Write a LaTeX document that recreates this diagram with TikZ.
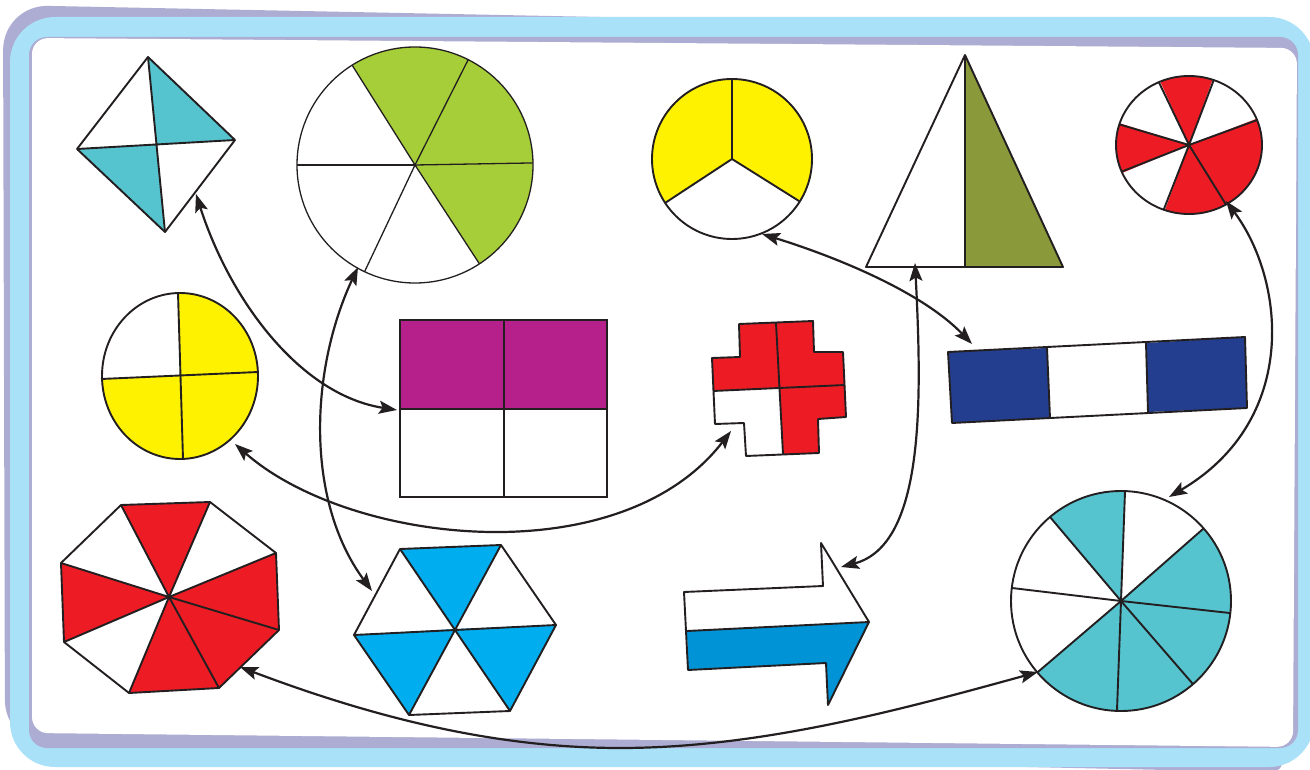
\documentclass[tikz,border=0pt]{standalone}
\usetikzlibrary{arrows.meta}
\definecolor{ink}{HTML}{231F20}
\definecolor{framebl}{HTML}{A9E1F9}
\definecolor{lav}{HTML}{ADADD3}
\definecolor{tealc}{HTML}{55C4CF}
\definecolor{grn}{HTML}{A6CE39}
\definecolor{yel}{HTML}{FFF200}
\definecolor{olive}{HTML}{8A9A3B}
\definecolor{redc}{HTML}{ED1C24}
\definecolor{purp}{HTML}{B5208B}
\definecolor{navy}{HTML}{233E8E}
\definecolor{hexbl}{HTML}{00AEEF}
\definecolor{arrbl}{HTML}{0093D6}
\begin{document}
\begin{tikzpicture}[x=1pt,y=-1pt,
  shp/.style={draw=ink,line width=1.9pt,line join=round},
  thinline/.style={draw=ink,line width=1.3pt,line join=round},
  link/.style={draw=ink,line width=2.2pt,{Stealth[length=18pt,width=13pt,inset=3.5pt]}-{Stealth[length=18pt,width=13pt,inset=3.5pt]}}]
\useasboundingbox (0,0) rectangle (1310,770);
% frame
\fill[lav,rounded corners=45] (3,5) -- (700,19) -- (1250,21) -- (1250,740) -- (1306,773) -- (5,745) -- cycle;
\fill[framebl,rounded corners=45] (10,17) rectangle (1314,767);
\fill[lav,rounded corners=18] (29,37) -- (1298,37) -- (1298,748) -- (29,748) -- cycle;
\fill[white,rounded corners=16] (32,38) -- (1297,48) -- (1293,747) -- (32,733) -- cycle;

% kite
\coordinate (kT) at (148,57); \coordinate (kR) at (235,140);
\coordinate (kB) at (165,232); \coordinate (kL) at (77,149);
\coordinate (kC) at (156,144);
\fill[tealc] (kT) -- (kC) -- (kR) -- cycle;
\fill[tealc] (kL) -- (kC) -- (kB) -- cycle;
\draw[shp] (kT) -- (kR) -- (kB) -- (kL) -- cycle;
\draw[shp] (kT) -- (kB) (kL) -- (kR);

% green circle (sixths)
\begin{scope}[shift={(415,165)}]
  \begin{scope}
    \clip (0,0) circle (118);
    \fill[grn] (0,0) -- (237.8:200) -- (296.8:200) -- (359:200) -- (416.9:200) -- cycle;
  \end{scope}
  \draw[thinline] (0,0) circle (118);
  \foreach \a in {237.8,296.8,359,56.9,115.3,180} \draw[thinline] (0,0) -- (\a:118);
\end{scope}

% yellow circle (thirds)
\begin{scope}[shift={(732,159)}]
  \begin{scope}
    \clip (0,0) circle (80);
    \fill[yel] (0,0) -- (146.7:150) -- (210:150) -- (270:150) -- (330:150) -- (392.1:150) -- cycle;
  \end{scope}
  \draw[shp] (0,0) circle (80);
  \foreach \a in {146.7,270,32.1} \draw[shp] (0,0) -- (\a:80);
\end{scope}

% triangle
\coordinate (tA) at (965,55); \coordinate (tL) at (866,267);
\coordinate (tR) at (1063,267); \coordinate (tM) at (965,267);
\fill[olive] (tA) -- (tR) -- (tM) -- cycle;
\draw[shp] (tA) -- (tR) -- (tL) -- cycle;
\draw[shp] (tA) -- (tM);

% red circle (sevenths)
\begin{scope}[shift={(1189,145)}]
  \begin{scope}
    \clip (0,0) ellipse [x radius=73,y radius=69];
    \fill[redc] (0,0) -- (245.6:150) -- (289.8:150) -- cycle;
    \fill[redc] (0,0) -- (338.8:150) -- (404:150) -- (470.3:150) -- cycle;
    \fill[redc] (0,0) -- (517.3:150) -- (557.4:150) -- cycle;
  \end{scope}
  \draw[shp] (0,0) ellipse [x radius=73,y radius=69];
  \foreach \a in {245.6,289.8,338.8,59.6,110.3,157.3,197.4} \draw[shp] (0,0) -- (\a:73 and 69);
\end{scope}

% yellow circle (quarters)
\coordinate (yC) at (180,376);
\begin{scope}
  \clip (180,376) ellipse [x radius=78,y radius=83];
  \fill[yel] (yC) -- (177,260) -- (300,260) -- (300,480) -- (60,480) -- (60,381) -- cycle;
\end{scope}
\draw[shp] (180,376) ellipse [x radius=78,y radius=83];
\draw[shp] (178,293) -- (183,459) (101,379) -- (258,372);

% purple rectangle
\fill[purp] (400,320) rectangle (607,409);
\draw[draw=ink,line width=2.4pt] (400,320) rectangle (607,497);
\draw[draw=ink,line width=2.4pt] (504,320) -- (504,497) (400,409) -- (607,409);

% red cross
\coordinate (cC) at (779,388); \coordinate (cT) at (776,323);
\coordinate (cB) at (783,454); \coordinate (cL) at (713,391);
\coordinate (cR) at (845,385);
\fill[redc] (cT) -- (739,324) -- (740,357) -- (712,358) -- (cL) -- (cC) -- cycle;
\fill[redc] (cT) -- (813,321) -- (814,352) -- (843,352) -- (cR) -- (cC) -- cycle;
\fill[redc] (cC) -- (cR) -- (846,417) -- (818,419) -- (819,453) -- (cB) -- cycle;
\draw[shp] (739,324) -- (813,321) -- (814,352) -- (843,352) -- (846,417) -- (818,419) -- (819,453) -- (746,456) -- (744,423) -- (715,424) -- (712,358) -- (740,357) -- cycle;
\draw[shp] (cT) -- (cB) (cL) -- (cR);

% navy band
\coordinate (bTL) at (948,352); \coordinate (bTR) at (1245,337);
\coordinate (bBR) at (1247,408); \coordinate (bBL) at (952,423);
\coordinate (d1t) at (1047,348); \coordinate (d1b) at (1050,418);
\coordinate (d2t) at (1146,343); \coordinate (d2b) at (1148,412);
\fill[navy] (bTL) -- (d1t) -- (d1b) -- (bBL) -- cycle;
\fill[navy] (d2t) -- (bTR) -- (bBR) -- (d2b) -- cycle;
\draw[shp] (bTL) -- (bTR) -- (bBR) -- (bBL) -- cycle;
\draw[shp] (d1t) -- (d1b) (d2t) -- (d2b);

% octagon
\coordinate (oc) at (169,597);
\coordinate (o1) at (121,505); \coordinate (o2) at (210,502);
\coordinate (o3) at (276,553); \coordinate (o4) at (279,630);
\coordinate (o5) at (219,688); \coordinate (o6) at (129,693);
\coordinate (o7) at (64,642);  \coordinate (o8) at (61,563);
\fill[redc] (oc) -- (o1) -- (o2) -- cycle;
\fill[redc] (oc) -- (o3) -- (o4) -- (o5) -- (o6) -- cycle;
\fill[redc] (oc) -- (o7) -- (o8) -- cycle;
\draw[shp] (o1) -- (o2) -- (o3) -- (o4) -- (o5) -- (o6) -- (o7) -- (o8) -- cycle;
\foreach \p in {o1,o2,o3,o4,o5,o6,o7,o8} \draw[shp] (oc) -- (\p);

% hexagon
\coordinate (hc) at (455,629);
\coordinate (h1) at (400,549); \coordinate (h2) at (501,545);
\coordinate (h3) at (556,625); \coordinate (h4) at (510,711);
\coordinate (h5) at (409,715); \coordinate (h6) at (354,635);
\fill[hexbl] (hc) -- (h1) -- (h2) -- cycle;
\fill[hexbl] (hc) -- (h3) -- (h4) -- cycle;
\fill[hexbl] (hc) -- (h5) -- (h6) -- cycle;
\draw[shp] (h1) -- (h2) -- (h3) -- (h4) -- (h5) -- (h6) -- cycle;
\draw[shp] (h1) -- (h4) (h2) -- (h5) (h3) -- (h6);

% arrow shape
\coordinate (a1) at (684,592); \coordinate (a2) at (823,586);
\coordinate (a3) at (821,543); \coordinate (a4) at (869,622);
\coordinate (a5) at (828,705); \coordinate (a6) at (826,663);
\coordinate (a7) at (688,670); \coordinate (am) at (687,631);
\fill[arrbl] (am) -- (a4) -- (a5) -- (a6) -- (a7) -- cycle;
\draw[shp] (a1) -- (a2) -- (a3) -- (a4) -- (a5) -- (a6) -- (a7) -- cycle;
\draw[shp] (am) -- (a4);

% teal circle (eighths)
\begin{scope}[shift={(1121,601)}]
  \begin{scope}
    \clip (0,0) circle (110);
    \fill[tealc] (0,0) -- (229.8:200) -- (272.1:200) -- cycle;
    \fill[tealc] (0,0) -- (318.7:200) -- (363.9:200) -- (409.1:200) -- (454.3:200) -- (499.5:200) -- cycle;
  \end{scope}
  \draw[shp] (0,0) circle (110);
  \foreach \a in {272.1,318.7,6.3,49.1,92.1,139.5,186.8,229.8} \draw[shp] (0,0) -- (\a:110);
\end{scope}

% connector end points
\coordinate (kiteP) at (196,194);
\coordinate (rectP) at (397,410);
\coordinate (greenP) at (358,267);
\coordinate (hexP) at (372,591);
\coordinate (yel4P) at (235,444);
\coordinate (crossP) at (731,431);
\coordinate (yel3P) at (762,234);
\coordinate (bandP) at (972,344);
\coordinate (triP) at (915,263);
\coordinate (arrowP) at (841,567);
\coordinate (redP) at (1226,201);
\coordinate (tealP) at (1169,497);
\coordinate (octP) at (240,667);
\coordinate (tealQ) at (1038,672);

\draw[link] (kiteP) .. controls (230,300) and (300,395) .. (rectP);
\draw[link] (greenP) .. controls (310,370) and (305,500) .. (hexP);
\draw[link] (yel4P) .. controls (350,545) and (620,575) .. (crossP);
\draw[link] (yel3P) .. controls (830,255) and (920,290) .. (bandP);
\draw[link] (triP) .. controls (922,400) and (925,545) .. (arrowP);
\draw[link] (redP) .. controls (1285,280) and (1300,420) .. (tealP);
\draw[link] (octP) .. controls (380,720) and (500,748) .. (620,748) .. controls (760,748) and (900,710) .. (tealQ);
\end{tikzpicture}
\end{document}
